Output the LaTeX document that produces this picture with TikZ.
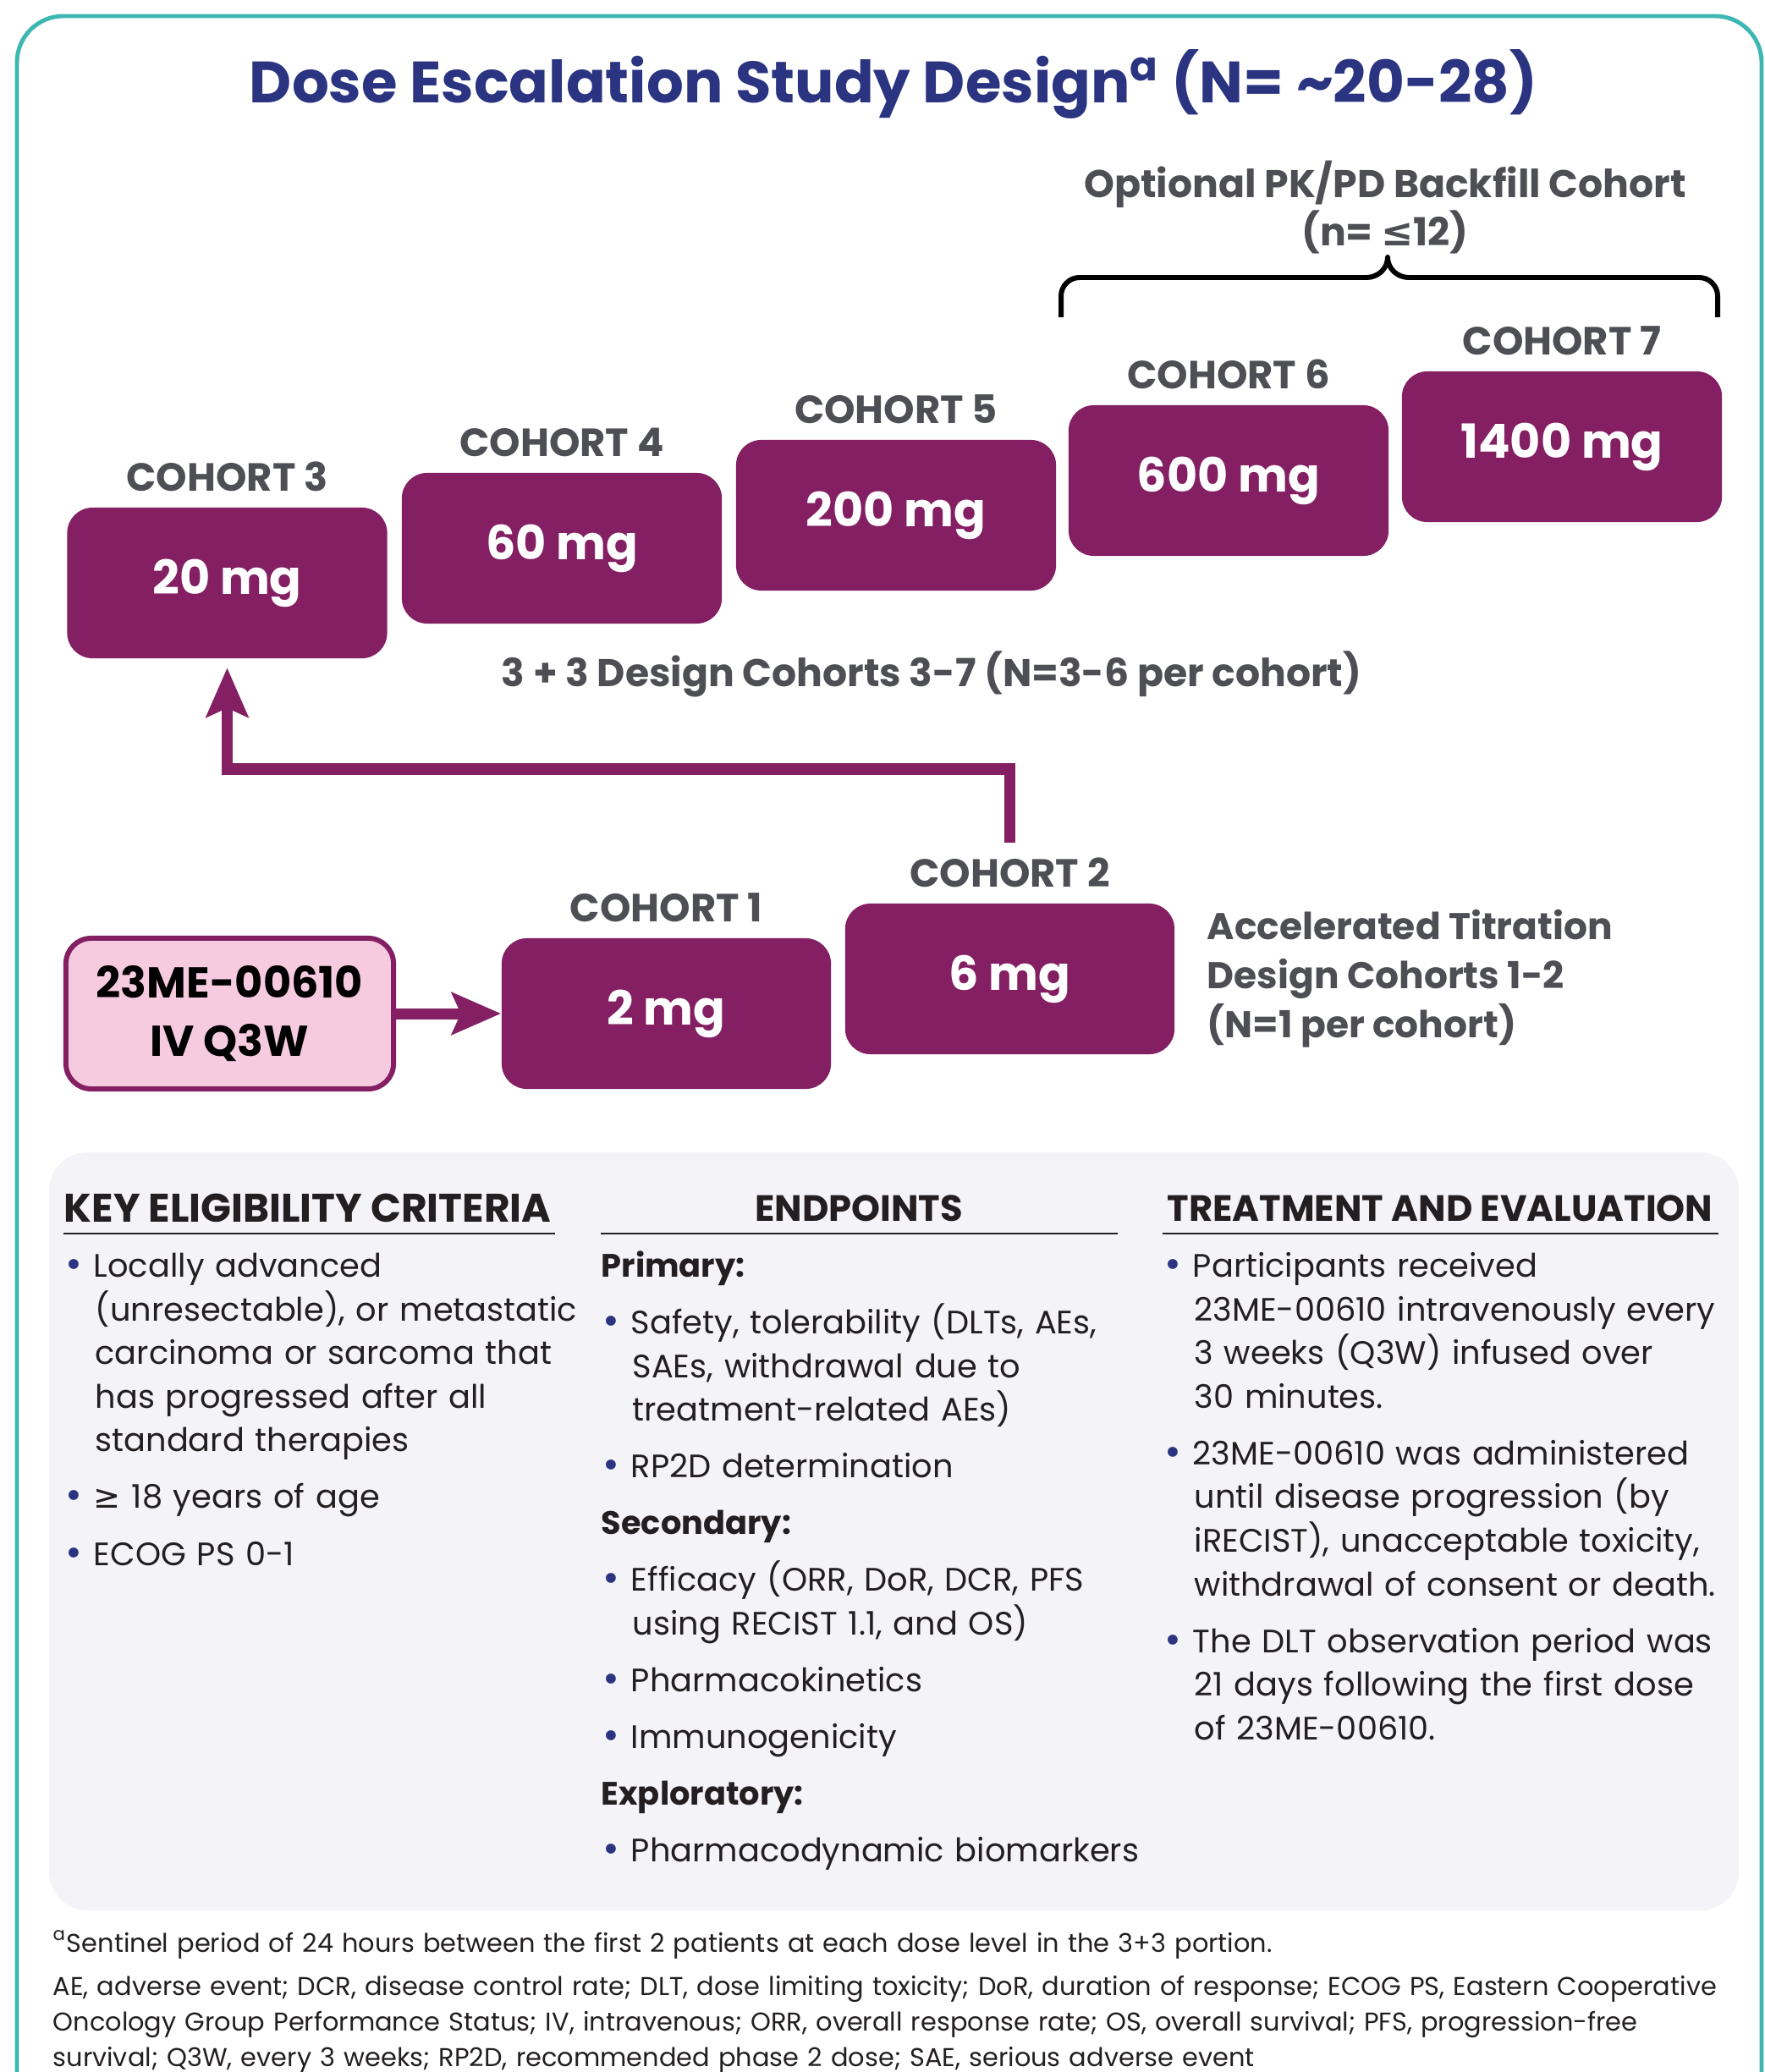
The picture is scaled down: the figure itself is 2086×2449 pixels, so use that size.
\documentclass[tikz,border=0pt]{standalone}
\usepackage{fontspec}
\setmainfont{Poppins}
\newfontfamily\symfont{DejaVu Sans}
\usepackage{xcolor}
\usetikzlibrary{positioning,shapes,arrows.meta}

\definecolor{tealline}{HTML}{3DB7B2}
\definecolor{titleblue}{HTML}{2B3481}
\definecolor{labelgray}{HTML}{4D4F54}
\definecolor{dosepurple}{HTML}{831F62}
\definecolor{drugpink}{HTML}{F7CBDF}
\definecolor{panelgray}{HTML}{F3F3F8}
\definecolor{bodyblack}{HTML}{231F20}

% bullet item with hanging indent
\newcommand{\itm}[1]{\par\noindent\hangindent=10.5pt\hangafter=1%
  \makebox[10pt][l]{\textcolor{titleblue}{\symfont\fontsize{11.5}{11}\selectfont •}}#1\par}

\begin{document}
\begin{tikzpicture}[
	x=0.01cm, y=-0.01cm,
	dose/.style = {rounded corners=8.5pt, fill=dosepurple, text=white,
		minimum width=3.78cm, minimum height=1.78cm,
		font=\bfseries\fontsize{15.8}{18}\selectfont},
	lbl/.style = {inner sep=0pt, text=labelgray,
		font=\bfseries\fontsize{13.2}{15}\selectfont},
	note/.style = {inner sep=0pt, text=labelgray, align=center,
		font=\bfseries\fontsize{13}{15}\selectfont},
	flow/.style = {draw=dosepurple, line width=3.7pt,
		-{Stealth[length=16.5pt, width=14pt, inset=3pt]}},
	head/.style = {inner sep=0pt, text=bodyblack,
		font=\bfseries\fontsize{12.3}{14}\selectfont},
	body/.style = {anchor=north west, inner sep=0pt, text width=7cm,
		align=left, text=bodyblack,
		font=\fontsize{10.9}{14.66}\selectfont},
	rulel/.style = {draw=bodyblack, line width=0.6pt}]

	\useasboundingbox (0,0) rectangle (2086,2449);

	% frame and panel
	\draw[tealline, line width=1.4pt, rounded corners=15.6pt]
		(20,19) rectangle (2082,2520);
	\fill[panelgray, rounded corners=13pt] (58,1362) rectangle (2055,2258);

	% title
	\node[text=titleblue, font=\bfseries\fontsize{19.6}{24}\selectfont] (title)
		at (1056,100) {Dose Escalation Study Design\textsuperscript{a} (N= \textasciitilde20-28)};

	% backfill brace
	\node[note] (backfill) at (1637,245)
		{Optional PK/PD Backfill Cohort\\(n= {\symfont ≤}12)};
	\draw[line width=1.7pt, line join=round]
		(1254,375) -- (1254,350) to[out=90,in=180] (1276,328) -- (1615,328)
		to[out=0,in=-90] (1640,304) to[out=-90,in=180] (1665,328) -- (2008,328)
		to[out=0,in=90] (2030,350) -- (2030,375);

	% 3+3 cohorts
	\node[dose] (c3) at (268.5,689) {20 mg};
	\node[dose] (c4) at (664,648) {60 mg};
	\node[dose] (c5) at (1059,609) {200 mg};
	\node[dose] (c6) at (1452,568) {600 mg};
	\node[dose] (c7) at (1846,528) {1400 mg};
	\node[lbl, above=5pt of c3] (l3) {COHORT 3};
	\node[lbl, above=5pt of c4] (l4) {COHORT 4};
	\node[lbl, above=5pt of c5] (l5) {COHORT 5};
	\node[lbl, above=5pt of c6] (l6) {COHORT 6};
	\node[lbl, above=5pt of c7] (l7) {COHORT 7};
	\node[note] (design33) at (1101,797) {3 + 3 Design Cohorts 3-7 (N=3-6 per cohort)};

	% accelerated titration
	\node[draw=dosepurple, line width=1.7pt, fill=drugpink, rounded corners=8.5pt,
		minimum width=3.87cm, minimum height=1.78cm, align=center,
		font=\bfseries\fontsize{14.5}{19.6}\selectfont] (drug) at (271.5,1198)
		{23ME-00610\\IV Q3W};
	\node[dose, minimum width=3.89cm] (c1) at (787.5,1198) {2 mg};
	\node[dose, minimum width=3.89cm] (c2) at (1193.5,1157) {6 mg};
	\node[lbl, above=5pt of c1] (l1) {COHORT 1};
	\node[lbl, above=5pt of c2] (l2) {COHORT 2};
	\node[note, anchor=west, align=left, font=\bfseries\fontsize{12.5}{16.5}\selectfont]
		(accel) at (1426,1157)
		{Accelerated Titration\\Design Cohorts 1-2\\(N=1 per cohort)};

	\coordinate (turn) at (268.5,909);
	\draw[flow] (drug) -- (c1);
	\draw[flow, shorten >=3pt] ([yshift=5pt]l2.north) |- (turn) -- (c3.south);

	% criteria columns
	\node[head, anchor=west, font=\bfseries\fontsize{13.4}{15}\selectfont] (h1)
		at (75,1428) {KEY ELIGIBILITY CRITERIA};
	\node[head] (h2) at (1015,1428) {ENDPOINTS};
	\node[head] (h3) at (1702,1428) {TREATMENT AND EVALUATION};
	\draw[rulel] (75,1458) -- (656,1458);
	\draw[rulel] (710,1458) -- (1321,1458);
	\draw[rulel] (1374,1458) -- (2031,1458);

	\node[body] (b1) at (75,1442) {\setlength{\parskip}{4.4pt}%
		\itm{Locally advanced\newline (unresectable), or metastatic\newline carcinoma or sarcoma that\newline has progressed after all\newline standard therapies}
		\itm{{\symfont ≥} 18 years of age}
		\itm{ECOG PS 0-1}};

	\node[body] (b2) at (710,1442) {\setlength{\parskip}{4.4pt}%
		\par\noindent\textbf{Primary:}\par
		\itm{Safety, tolerability (DLTs, AEs,\newline SAEs, withdrawal due to\newline treatment-related AEs)}
		\itm{RP2D determination}
		\par\noindent\textbf{Secondary:}\par
		\itm{Efficacy (ORR, DoR, DCR, PFS\newline using RECIST 1.1, and OS)}
		\itm{Pharmacokinetics}
		\itm{Immunogenicity}
		\par\noindent\textbf{Exploratory:}\par
		\itm{Pharmacodynamic biomarkers}};

	\node[body] (b3) at (1374,1442) {\setlength{\parskip}{4.4pt}%
		\itm{Participants received\newline 23ME-00610 intravenously every\newline 3 weeks (Q3W) infused over\newline 30 minutes.}
		\itm{23ME-00610 was administered\newline until disease progression (by\newline iRECIST), unacceptable toxicity,\newline withdrawal of consent or death.}
		\itm{The DLT observation period was\newline 21 days following the first dose\newline of 23ME-00610.}};

	% footnotes
	\node[body, text width=24cm, font=\fontsize{8.65}{12}\selectfont] (notes) at (62,2281)
		{\setlength{\parskip}{2.6pt}%
		\textsuperscript{a}Sentinel period of 24 hours between the first 2 patients at each dose level in the 3+3 portion.\par
		AE, adverse event; DCR, disease control rate; DLT, dose limiting toxicity; DoR, duration of response; ECOG PS, Eastern Cooperative\newline Oncology Group Performance Status; IV, intravenous; ORR, overall response rate; OS, overall survival; PFS, progression-free\newline survival; Q3W, every 3 weeks; RP2D, recommended phase 2 dose; SAE, serious adverse event};
\end{tikzpicture}
\end{document}
